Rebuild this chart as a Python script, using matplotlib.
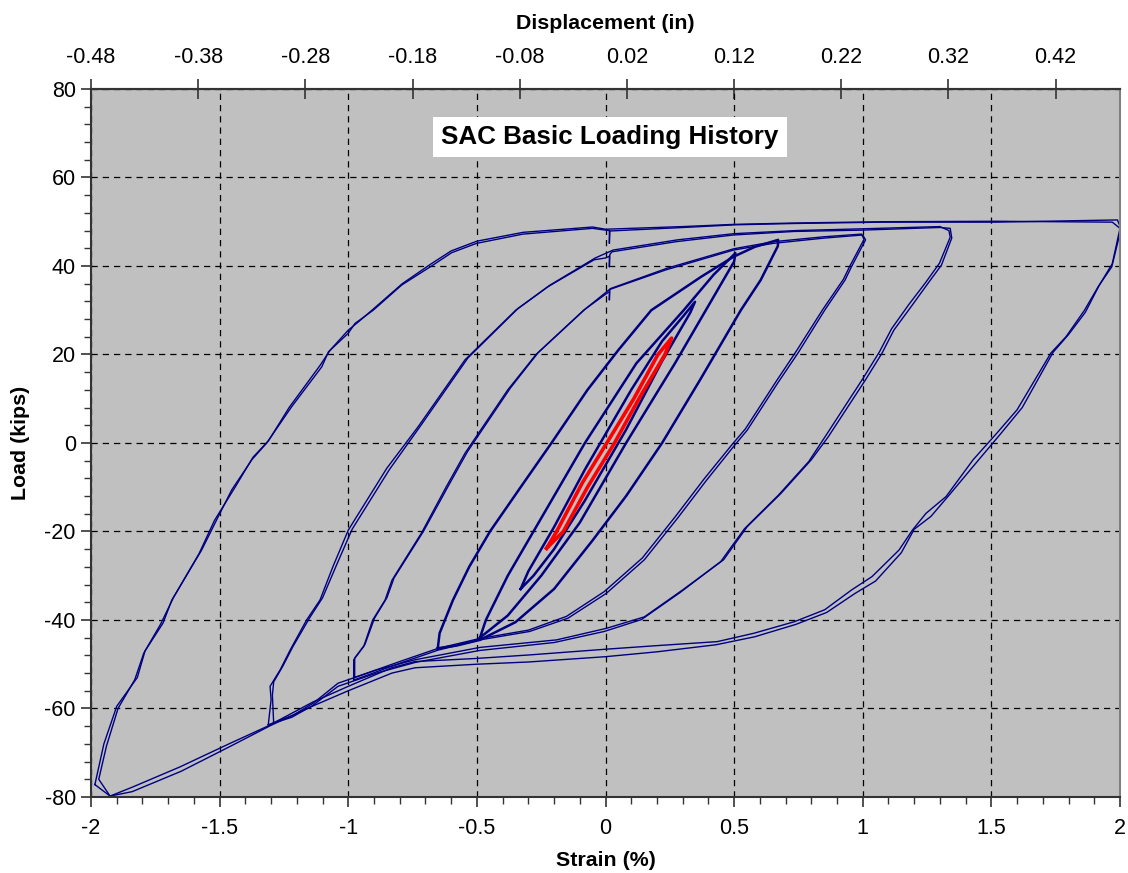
import numpy as np
import matplotlib
matplotlib.use("Agg")
import matplotlib.pyplot as plt
from matplotlib.ticker import MultipleLocator, FixedLocator

plt.rcParams['font.family'] = ['Liberation Sans', 'DejaVu Sans']

# ------------------------------------------------------------
# Load vs strain, one closed loop per cycle
# (each loop: up the left branch, then down the right branch)
# ------------------------------------------------------------

# amplitude 0.25 % (elastic cycles)
strain_025 = [-0.229, -0.19, -0.09, 0.005, 0.11, 0.204, 0.257,
              0.231, 0.13, 0.035, -0.07, -0.164, -0.229]
load_025 = [-23.8, -20.0, -9.0, 0.0, 10.0, 20.0, 23.7,
            20.0, 10.0, 0.0, -10.0, -20.0, -23.8]

# amplitude 0.33 %
strain_033 = [-0.33, -0.30, -0.20, -0.08, -0.02, 0.10, 0.22, 0.30, 0.348,
              0.33, 0.22, 0.08, 0.05, -0.08, -0.20, -0.28, -0.33]
load_033 = [-33.0, -29.0, -19.0, -6.0, 0.0, 12.0, 23.0, 28.5, 31.9,
            29.5, 18.5, 3.0, 0.0, -13.0, -24.0, -30.0, -33.0]

# amplitude 0.5 %
strain_050 = [-0.488, -0.465, -0.38, -0.27, -0.08, 0.12, 0.304, 0.42, 0.505,
              0.50, 0.40, 0.27, 0.08, -0.10, -0.25, -0.38, -0.488]
load_050 = [-44.0, -40.0, -30.0, -19.0, 0.0, 18.0, 30.0, 38.0, 42.9,
            41.0, 31.0, 18.0, 0.0, -18.0, -30.0, -39.0, -44.0]

# amplitude 0.67 %
strain_067 = [-0.652, -0.645, -0.593, -0.53, -0.449, -0.33, -0.21, -0.07,
              0.05, 0.178, 0.373, 0.498, 0.58, 0.671,
              0.67, 0.603, 0.526, 0.367, 0.22, 0.08, -0.05, -0.20, -0.35,
              -0.488, -0.58, -0.652]
load_067 = [-46.4, -43.0, -35.5, -28.0, -20.0, -10.0, 0.0, 12.0,
            21.0, 30.0, 37.6, 42.1, 44.3, 45.9,
            44.5, 36.8, 30.0, 14.2, 0.0, -12.0, -22.0, -33.0, -40.5,
            -44.5, -45.8, -46.4]

# amplitude 1.0 %, first and second cycle
strain_100 = [-0.979, -0.979, -0.94, -0.905, -0.857, -0.83, -0.716, -0.62,
              -0.546, -0.38, -0.27, -0.085, 0.0, 0.015, 0.015, 0.017, 0.234,
              0.498, 0.651, 0.85, 1.0,
              1.011, 0.956, 0.931, 0.852, 0.748, 0.669, 0.551, 0.498, 0.393,
              0.28, 0.151, 0.003, -0.146, -0.295, -0.488, -0.65, -0.80, -0.979]
load_100 = [-53.6, -49.0, -46.0, -40.0, -35.5, -31.0, -20.4, -10.0,
            -2.3, 12.0, 20.0, 30.0, 33.6, 34.2, 32.3, 34.7, 39.1,
            43.6, 45.1, 46.3, 47.0,
            45.9, 39.8, 36.8, 30.0, 20.3, 13.5, 2.9, -0.8, -8.4,
            -17.0, -26.4, -34.0, -39.6, -42.6, -44.5, -46.8, -49.8, -53.6]
strain_100b = [-0.975, -0.975, -0.935, -0.898, -0.85, -0.822, -0.708, -0.61,
               -0.537, -0.37, -0.262, -0.078, 0.02, 0.24, 0.50, 0.655, 0.85,
               0.995,
               1.005, 0.95, 0.925, 0.845, 0.74, 0.662, 0.544, 0.49, 0.385,
               0.272, 0.143, -0.005, -0.152, -0.30, -0.49, -0.65, -0.80, -0.975]
load_100b = [-53.0, -48.6, -45.5, -39.6, -35.0, -30.5, -20.0, -9.6,
             -2.0, 12.4, 20.4, 30.3, 34.9, 39.5, 43.9, 45.5, 46.6,
             47.2,
             46.0, 40.0, 37.0, 30.2, 20.6, 13.8, 3.2, -0.5, -8.0,
             -16.6, -26.0, -33.6, -39.2, -42.3, -44.2, -46.4, -49.4, -53.0]

# amplitude 1.33 %, first and second cycle
strain_133 = [-1.311, -1.30, -1.304, -1.265, -1.226, -1.162, -1.11, -1.06,
              -1.0, -0.85, -0.728, -0.546, -0.349, -0.224, -0.044, 0.0,
              0.015, 0.015, 0.017, 0.025, 0.276, 0.498, 0.734, 0.998, 1.30,
              1.34,
              1.346, 1.306, 1.254, 1.188, 1.121, 1.075, 1.01, 0.866, 0.80,
              0.682, 0.551, 0.459, 0.30, 0.151, 0.003, -0.19, -0.488, -0.741,
              -0.89, -1.04, -1.136, -1.214, -1.311]
load_133 = [-63.7, -58.0, -55.0, -51.3, -46.8, -40.0, -35.5, -28.0,
            -19.7, -5.7, 3.7, 18.8, 30.0, 35.3, 41.4, 41.8,
            42.2, 39.8, 42.6, 43.2, 45.5, 47.0, 47.8, 48.1, 48.7,
            48.5,
            46.3, 40.2, 36.1, 30.8, 25.5, 20.3, 14.2, 1.4, -3.8,
            -11.4, -18.9, -26.4, -33.2, -39.3, -41.9, -44.5, -46.2, -49.0,
            -51.3, -54.3, -58.8, -61.5, -63.7]
strain_133b = [-1.29, -1.295, -1.29, -1.255, -1.215, -1.15, -1.10, -1.045,
               -0.985, -0.84, -0.715, -0.535, -0.34, -0.215, -0.04, 0.03,
               0.28, 0.50, 0.74, 1.0, 1.30, 1.335,
               1.34, 1.298, 1.245, 1.178, 1.112, 1.065, 1.0, 0.858, 0.79,
               0.672, 0.54, 0.448, 0.29, 0.14, -0.005, -0.20, -0.49, -0.74,
               -0.89, -1.04, -1.14, -1.22, -1.29]
load_133b = [-63.3, -57.0, -54.0, -50.5, -46.0, -39.5, -35.0, -27.5,
             -19.5, -6.0, 4.2, 19.2, 30.4, 35.7, 41.8, 43.6,
             45.9, 47.3, 48.0, 48.4, 48.9, 48.0,
             46.5, 40.6, 36.3, 31.2, 25.8, 20.6, 14.5, 1.8, -4.2,
             -11.8, -19.4, -26.8, -33.8, -39.9, -42.6, -45.1, -46.9, -49.6,
             -52.0, -55.0, -59.4, -62.0, -63.3]

# amplitude 2.0 %, first and second cycle
strain_200 = [-1.985, -1.95, -1.90, -1.82, -1.79, -1.72, -1.686, -1.57,
              -1.505, -1.453, -1.375, -1.317, -1.22, -1.103, -1.077, -1.0,
              -0.974, -0.903, -0.792, -0.676, -0.598, -0.502, -0.321, -0.05,
              0.0, 0.015, 0.015, 0.017, 0.304, 0.505, 0.734, 1.081, 1.518,
              1.99,
              2.0, 2.0, 1.968, 1.915, 1.862, 1.79, 1.731, 1.60, 1.521, 1.429,
              1.324, 1.246, 1.193, 1.141, 1.036, 0.957, 0.852, 0.734, 0.577,
              0.434, 0.20, 0.003, -0.295, -0.503, -0.741, -0.831, -1.0,
              -1.136, -1.317, -1.46, -1.654, -1.836, -1.926, -1.985]
load_200 = [-77.2, -68.0, -59.5, -53.0, -47.0, -40.7, -35.5, -24.2,
            -16.6, -10.6, -3.8, 0.0, 8.2, 17.2, 20.6, 24.8,
            27.0, 30.0, 35.7, 40.0, 43.0, 45.1, 47.2, 48.5,
            48.1, 48.0, 45.1, 47.9, 48.7, 49.3, 49.6, 49.9, 49.9,
            50.4,
            49.0, 47.4, 39.8, 35.3, 30.0, 24.0, 20.3, 7.5, 2.2, -3.8,
            -12.1, -15.9, -19.7, -24.2, -30.2, -33.2, -37.7, -40.4, -43.0,
            -44.9, -45.8, -46.6, -47.9, -48.7, -49.4, -50.8, -55.0,
            -58.5, -64.1, -67.9, -73.2, -77.7, -79.8, -77.2]
strain_200b = [-1.926, -1.97, -1.94, -1.895, -1.83, -1.795, -1.73, -1.68,
               -1.58, -1.52, -1.44, -1.37, -1.31, -1.23, -1.11, -1.07, -1.0,
               -0.96, -0.90, -0.79, -0.68, -0.60, -0.50, -0.32, -0.05, 0.0,
               0.30, 0.50, 0.73, 1.08, 1.52, 1.97,
               2.0, 1.97, 1.92, 1.865, 1.80, 1.74, 1.62, 1.535, 1.445, 1.34,
               1.265, 1.20, 1.15, 1.05, 0.97, 0.86, 0.74, 0.58, 0.43, 0.20,
               0.0, -0.30, -0.50, -0.74, -0.83, -1.0, -1.14, -1.30, -1.46,
               -1.65, -1.84, -1.926]
load_200b = [-79.8, -76.0, -68.5, -60.0, -53.5, -47.5, -41.0, -35.0,
             -25.0, -17.5, -10.0, -3.2, 0.5, 8.0, 17.5, 21.0, 25.5,
             27.4, 30.4, 36.0, 40.4, 43.4, 45.6, 47.6, 48.8, 48.3,
             48.9, 49.4, 49.7, 50.0, 50.1, 49.9,
             48.5, 40.5, 35.7, 29.5, 24.5, 20.5, 8.0, 2.0, -4.2, -11.5,
             -16.6, -19.5, -24.8, -31.2, -34.0, -38.3, -41.0, -43.8, -45.6, -47.2,
             -48.3, -49.5, -50.0, -50.8, -52.0, -56.0, -59.5, -63.8, -68.6,
             -74.2, -78.8, -79.8]

# top axis: displacement (in) matching the strain scale
disp_ticks = [-0.48, -0.38, -0.28, -0.18, -0.08, 0.02, 0.12, 0.22, 0.32, 0.42]
disp_labels = ['-0.48', '-0.38', '-0.28', '-0.18', '-0.08',
               '0.02', '0.12', '0.22', '0.32', '0.42']
in_per_pct = 0.24

navy = '#000080'

fig = plt.figure(figsize=(11.28, 8.73), dpi=100)
ax = fig.add_axes([0.0807, 0.0871, 0.9122, 0.811])
ax.set_facecolor('#C0C0C0')

# outer loops, two thin cycles each
outer = [(strain_200, load_200), (strain_200b, load_200b),
         (strain_133, load_133), (strain_133b, load_133b),
         (strain_100, load_100), (strain_100b, load_100b)]
for s, p in outer:
    ax.plot(s, p, color=navy, lw=1.0, solid_joinstyle='round')

# inner loops, many cycles piled up -> thicker
for s, p in [(strain_067, load_067), (strain_050, load_050), (strain_033, load_033)]:
    ax.plot(s, p, color=navy, lw=1.8, solid_joinstyle='round')

ax.plot(strain_025, load_025, color='#FF0000', lw=2.6, solid_joinstyle='round')

ax.set_xlim(-2, 2)
ax.set_ylim(-80, 80)

ax.xaxis.set_major_locator(MultipleLocator(0.5))
ax.xaxis.set_minor_locator(MultipleLocator(0.1))
ax.yaxis.set_major_locator(MultipleLocator(20))
ax.yaxis.set_minor_locator(MultipleLocator(4))
ax.xaxis.set_major_formatter(plt.FuncFormatter(lambda v, _: f"{v:g}"))
ax.yaxis.set_major_formatter(plt.FuncFormatter(lambda v, _: f"{v:g}"))

ax.grid(True, which='major', color='black', linestyle=(0, (5, 4)), lw=0.9)
ax.set_axisbelow(True)

ax.tick_params(which='major', direction='out', length=7, width=1.2,
               labelsize=15.5, color='#333333')
ax.tick_params(which='minor', direction='out', length=5, width=1.0,
               color='#333333')
ax.tick_params(axis='x', which='major', pad=8)
ax.tick_params(axis='y', which='major', pad=4)
ax.tick_params(top=False, right=False, which='both')

for side in ['left', 'bottom', 'top']:
    ax.spines[side].set_color('#333333')
    ax.spines[side].set_linewidth(1.5)
ax.spines['right'].set_color('#808080')
ax.spines['right'].set_linewidth(1.5)

ax.set_xlabel('Strain (%)', fontsize=15.4, fontweight='bold', labelpad=9)
ax.set_ylabel('Load (kips)', fontsize=15.4, fontweight='bold', labelpad=10)

# displacement scale along the top
top = ax.secondary_xaxis('top', functions=(lambda s: s * in_per_pct,
                                           lambda d: d / in_per_pct))
top.xaxis.set_major_locator(FixedLocator(disp_ticks))
top.set_xticklabels(disp_labels)
top.tick_params(direction='inout', length=14, width=1.2, labelsize=15.5,
                pad=8, color='#333333')
top.xaxis.set_minor_locator(FixedLocator([]))
top.set_xlabel('Displacement (in)', fontsize=15.4, fontweight='bold', labelpad=13)
top.spines['top'].set_color('#333333')
top.spines['top'].set_linewidth(1.5)

ax.text(0.504, 0.932, 'SAC Basic Loading History', transform=ax.transAxes,
        ha='center', va='center', fontsize=18.7, fontweight='bold',
        bbox=dict(facecolor='white', edgecolor='none', pad=6))

fig.savefig('out.png', dpi=100)
